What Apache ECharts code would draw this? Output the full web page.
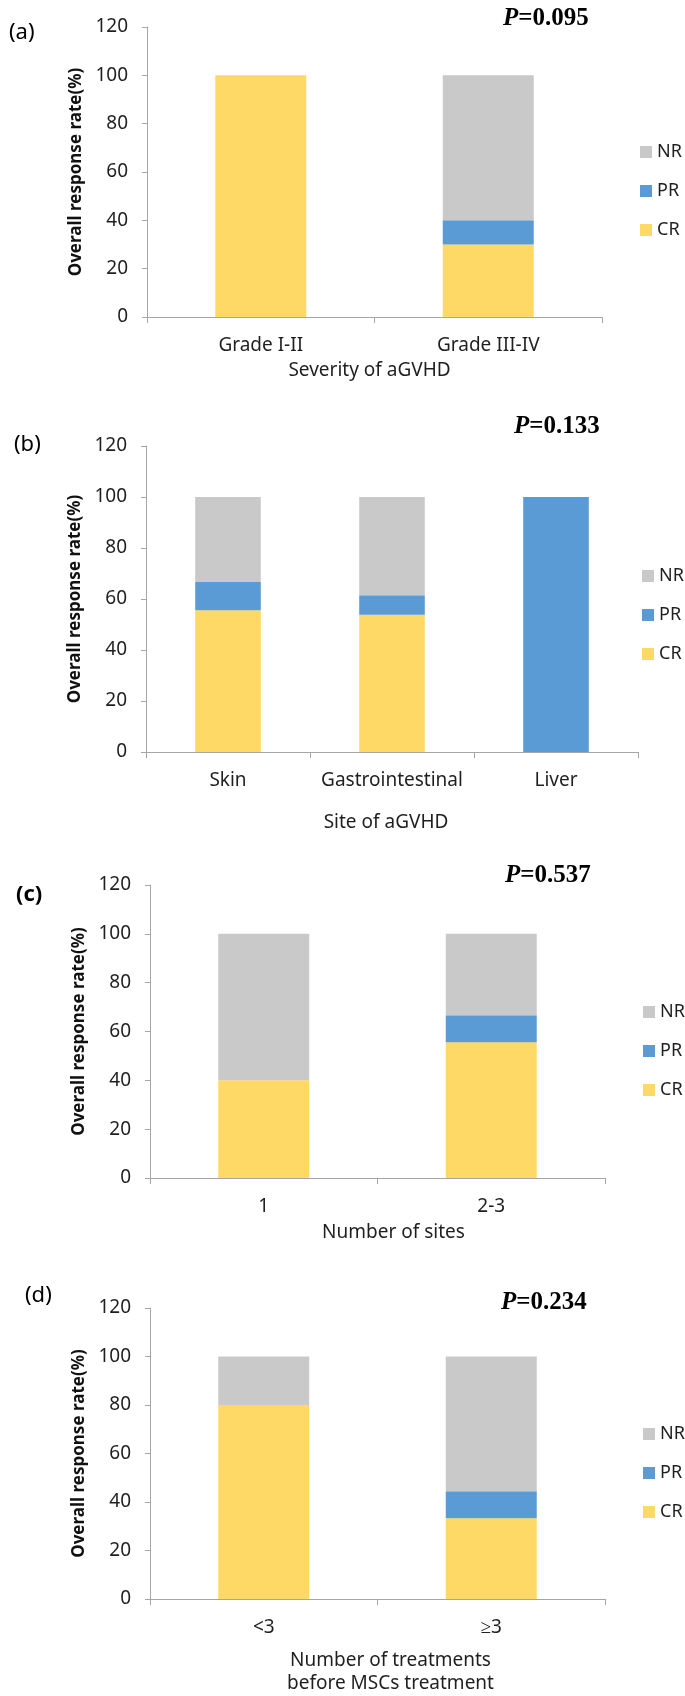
<!DOCTYPE html>
<html><head><meta charset="utf-8">
<script src="https://cdn.jsdelivr.net/npm/echarts/dist/echarts.min.js"></script>
<style>html,body{margin:0;padding:0;background:#fff}#c{width:685px;height:1696px}</style>
</head><body><div id="c"></div><script>
// Panel (a)
const catsA = ['Grade I-II', 'Grade III-IV'];
const crA = [100, 30];
const prA = [0, 10];
const nrA = [0, 60];
// Panel (b)
const catsB = ['Skin', 'Gastrointestinal', 'Liver'];
const crB = [55.6, 53.8, 0];
const prB = [11.1, 7.7, 100];
const nrB = [33.3, 38.5, 0];
// Panel (c)
const catsC = ['1', '2-3'];
const crC = [40, 55.6];
const prC = [0, 11.1];
const nrC = [60, 33.3];
// Panel (d)
const catsD = ['<3', '≥3'];
const crD = [80, 33.3];
const prD = [0, 11.1];
const nrD = [20, 55.6];

const xNames = ['Severity of aGVHD', 'Site of aGVHD', 'Number of sites', 'Number of treatments\nbefore MSCs treatment'];
const pValues = ['0.095', '0.133', '0.537', '0.234'];
const panelLabels = ['(a)', '(b)', '(c)', '(d)'];
const yTicks = [0, 20, 40, 60, 80, 100, 120];

const panels = [
  {cats: catsA, cr: crA, pr: prA, nr: nrA},
  {cats: catsB, cr: crB, pr: prB, nr: nrB},
  {cats: catsC, cr: crC, pr: prC, nr: nrC},
  {cats: catsD, cr: crD, pr: prD, nr: nrD}
];

// layout (pixels)
const L = [
  {left: 147, top: 27, width: 455, height: 290, nameGap: 42, namePad: [0, 10, 0, 0], yGap: 58, legTop: 138, legLeft: 635, pLeft: 498, pTop: 1, labLeft: 4, labTop: 17},
  {left: 146, top: 446, width: 492, height: 306, nameGap: 59, namePad: [0, 12, 0, 0], yGap: 62, legTop: 562, legLeft: 637, pLeft: 509, pTop: 409, labLeft: 9, labTop: 429},
  {left: 150, top: 885, width: 455, height: 293, nameGap: 43, namePad: [0, 0, 0, 32], yGap: 59, legTop: 998, legLeft: 638, pLeft: 500, pTop: 858, labLeft: 11, labTop: 879},
  {left: 150, top: 1308, width: 455, height: 292, nameGap: 50, namePad: [0, 0, 0, 26], yGap: 61, legTop: 1420, legLeft: 638, pLeft: 496, pTop: 1285, labLeft: 20, labTop: 1280}
];

const FONT = 'Noto Sans';
const AX = '#A6A6A6';
const TXT = '#1f1f1f';
const colors = {CR: '#FFD966', PR: '#5B9BD5', NR: '#C9C9C9'};

const grid = [], xAxis = [], yAxis = [], series = [], legend = [], title = [];
panels.forEach((p, i) => {
  const l = L[i];
  grid.push({left: l.left, top: l.top, width: l.width, height: l.height, containLabel: false});
  xAxis.push({
    type: 'category', gridIndex: i, data: p.cats,
    axisLine: {show: true, lineStyle: {color: AX, width: 1}},
    axisTick: {show: true, alignWithLabel: false, length: 6, lineStyle: {color: AX}},
    axisLabel: {fontFamily: FONT, fontSize: 19, color: TXT, margin: 19, interval: 0},
    splitLine: {show: false},
    name: xNames[i], nameLocation: 'middle', nameGap: l.nameGap,
    nameTextStyle: {fontFamily: FONT, fontSize: 19, color: TXT, lineHeight: 23, padding: l.namePad}
  });
  yAxis.push({
    type: 'value', gridIndex: i, min: 0, max: 120, interval: 20,
    axisLine: {show: true, lineStyle: {color: AX, width: 1}},
    axisTick: {show: true, length: 5, lineStyle: {color: AX}},
    axisLabel: {fontFamily: FONT, fontSize: 19, color: TXT, margin: 19},
    splitLine: {show: false},
    name: 'Overall response rate(%)', nameLocation: 'middle', nameGap: l.yGap, nameRotate: 90,
    nameTextStyle: {fontFamily: FONT, fontSize: 17, fontWeight: 'bold', color: '#111'}
  });
  [['CR', p.cr], ['PR', p.pr], ['NR', p.nr]].forEach(([nm, vals]) => {
    series.push({
      type: 'bar', name: nm, xAxisIndex: i, yAxisIndex: i, stack: 'g' + i,
      data: vals, barWidth: '40%',
      itemStyle: {color: colors[nm]},
      emphasis: {disabled: true}
    });
  });
  legend.push({
    orient: 'vertical', left: l.legLeft, top: l.legTop,
    data: ['NR', 'PR', 'CR'], icon: 'rect', itemWidth: 12, itemHeight: 12, itemGap: 21,
    textStyle: {fontFamily: FONT, fontSize: 18, color: TXT, padding: [0, 0, 0, 0]},
    selectedMode: false
  });
  title.push({
    left: l.pLeft, top: l.pTop,
    text: '{i|P}{b|=' + pValues[i] + '}',
    textStyle: {rich: {
      i: {fontFamily: 'Liberation Serif', fontSize: 25, fontWeight: 'bold', fontStyle: 'italic', color: '#000'},
      b: {fontFamily: 'Liberation Serif', fontSize: 25, fontWeight: 'bold', color: '#000'}
    }}
  });
  title.push({
    left: l.labLeft, top: l.labTop, text: panelLabels[i],
    textStyle: {fontFamily: FONT, fontSize: 22, fontWeight: i === 2 ? 'bold' : 'normal', color: '#000'}
  });
});

const chart = echarts.init(document.getElementById('c'), null, {renderer: 'canvas'});
chart.setOption({animation: false, backgroundColor: '#fff', grid, xAxis, yAxis, series, legend, title});
</script></body></html>
